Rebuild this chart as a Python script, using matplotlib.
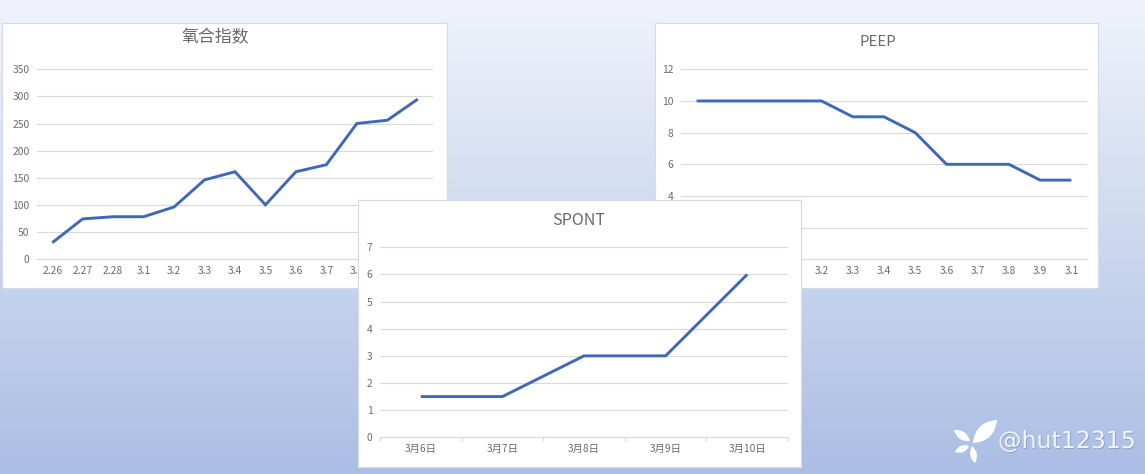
#!/usr/bin/env python3
"""Three overlapping line chart cards on a blue gradient slide."""

import matplotlib

matplotlib.use("Agg")
import matplotlib.patheffects as pe
import matplotlib.pyplot as plt
import numpy as np
from matplotlib.patches import PathPatch
from matplotlib.path import Path

plt.rcParams["font.family"] = ["Noto Sans CJK SC", "DejaVu Sans"]

W, H = 1145, 474
LINE = "#4068B8"
GRID = "#D9D9D9"
TEXT = "#6A6A6A"

days_long = ["2.26", "2.27", "2.28", "3.1", "3.2", "3.3", "3.4", "3.5", "3.6", "3.7", "3.8", "3.9", "3.1"]
oxygen_index = [30, 74, 78, 78, 96, 146, 161, 100, 161, 174, 250, 256, 295]
peep = [10, 10, 10, 10, 10, 9, 9, 8, 6, 6, 6, 5, 5]
days_spont = ["3月6日", "3月7日", "3月8日", "3月9日", "3月10日"]
spont = [1.5, 1.5, 3, 3, 6]


def px_axes(fig, left, top, right, bottom, z):
    """Axes placed by image pixels (origin at the top left)."""
    rect = [left / W, 1 - bottom / H, (right - left) / W, (bottom - top) / H]
    ax = fig.add_axes(rect, zorder=z)
    return ax


def card(fig, box, plot, title, title_xy, title_size, labels, values, yticks, z, boundary_ticks=False):
    panel = px_axes(fig, *box, z)
    panel.set_facecolor("white")
    panel.set_xticks([])
    panel.set_yticks([])
    for s in panel.spines.values():
        s.set_color("#D3DAE8")
        s.set_linewidth(0.8)
    panel.set_xlim(box[0], box[2])
    panel.set_ylim(box[3], box[1])
    panel.text(*title_xy, title, ha="center", va="center", fontsize=title_size, color=TEXT)

    ax = px_axes(fig, *plot, z + 1)
    ax.patch.set_visible(False)
    x = np.arange(len(labels))
    ax.plot(x, values, color=LINE, lw=2.1, solid_joinstyle="miter", solid_capstyle="butt")
    ax.set_xlim(-0.5, len(labels) - 0.5)
    ax.set_ylim(yticks[0], yticks[-1])
    ax.set_yticks(yticks)
    ax.set_xticks(x, labels)
    ax.grid(axis="y", color=GRID, lw=0.8)
    ax.set_axisbelow(True)
    for side in ("top", "left", "right"):
        ax.spines[side].set_visible(False)
    ax.spines["bottom"].set_color(GRID)
    ax.spines["bottom"].set_linewidth(0.8)
    ax.tick_params(axis="y", length=0, pad=5.5, labelsize=7.4, labelcolor=TEXT)
    ax.tick_params(axis="x", length=0, pad=5, labelsize=7.4, labelcolor=TEXT)
    if boundary_ticks:
        ax.set_xticks(np.arange(len(labels) + 1) - 0.5, minor=True)
        ax.tick_params(axis="x", which="minor", length=3, width=0.8, color=GRID)
    return ax


def leaf(ax, base, tip, bulge):
    """One white petal of the watermark logo."""
    base, tip = np.array(base, float), np.array(tip, float)
    d = tip - base
    n = np.array([-d[1], d[0]]) * bulge
    mid = (base + tip) / 2
    verts = [base, mid + n, tip, mid - n, base]
    codes = [Path.MOVETO, Path.CURVE3, Path.CURVE3, Path.CURVE3, Path.CURVE3]
    ax.add_patch(PathPatch(Path(verts, codes), fc="white", ec="none"))


fig = plt.figure(figsize=(W / 100, H / 100), dpi=100)

bg = px_axes(fig, 0, 0, W, H, 0)
bg.axis("off")
top = np.array([0xF0, 0xF3, 0xFB]) / 255
mid = np.array([0xC4, 0xD2, 0xEC]) / 255
end = np.array([0xAB, 0xBE, 0xE4]) / 255
t = np.linspace(0, 1, H)[:, None]
grad = np.where(t < 0.62, top + (mid - top) * t / 0.62, mid + (end - mid) * (t - 0.62) / 0.38)
bg.imshow(grad[:, None, :], aspect="auto", extent=(0, W, H, 0))

card(fig, (2, 23, 447, 288), (37, 69.3, 433, 259), "氧合指数", (215, 37), 12.2,
     days_long, oxygen_index, [0, 50, 100, 150, 200, 250, 300, 350], 1)
card(fig, (655, 23, 1098, 288), (681, 69.3, 1087, 259.3), "PEEP", (877.5, 41.5), 10.8,
     days_long, peep, [0, 2, 4, 6, 8, 10, 12], 3)
card(fig, (357.5, 200, 801, 467), (380, 247.3, 788, 437.3), "SPONT", (579, 220.5), 11.6,
     days_spont, spont, [0, 1, 2, 3, 4, 5, 6, 7], 5, boundary_ticks=True)

# watermark
top_ax = px_axes(fig, 0, 0, W, H, 10)
top_ax.axis("off")
top_ax.set_xlim(0, W)
top_ax.set_ylim(H, 0)
leaf(top_ax, (973, 443), (997, 420), 0.42)
leaf(top_ax, (970, 441), (954, 430), 0.42)
leaf(top_ax, (969, 446), (955, 452), 0.45)
leaf(top_ax, (972, 446), (975, 463), 0.4)
top_ax.text(998, 441, "@hut12315", ha="left", va="center", family="DejaVu Sans",
            fontsize=17, color="#F2F5FB",
            path_effects=[pe.withSimplePatchShadow(offset=(0.6, -0.6), shadow_rgbFace="#5F6F8F", alpha=0.45)])

fig.savefig("out.png", dpi=100)
